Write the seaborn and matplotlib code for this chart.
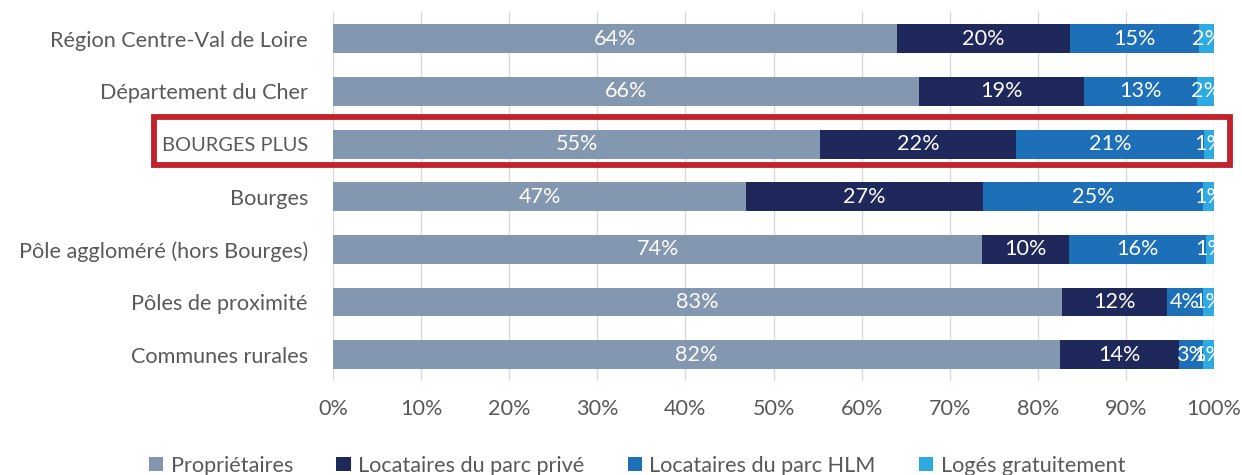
import numpy as np
import pandas as pd
import matplotlib
matplotlib.use("Agg")
import matplotlib.pyplot as plt
import matplotlib.transforms as mtransforms
from matplotlib.patches import Patch, Rectangle
import seaborn as sns

categories = ["Région Centre-Val de Loire", "Département du Cher", "BOURGES PLUS",
              "Bourges", "Pôle aggloméré (hors Bourges)", "Pôles de proximité",
              "Communes rurales"]
series_names = ["Propriétaires", "Locataires du parc privé",
                "Locataires du parc HLM", "Logés gratuitement"]
proprietaires = [64.0, 66.5, 55.3, 46.9, 73.7, 82.7, 82.5]
loc_prive = [19.6, 18.7, 22.2, 26.9, 9.8, 12.0, 13.5]
loc_hlm = [14.7, 12.9, 21.4, 25.0, 15.6, 4.0, 2.7]
loges_gratuit = [1.7, 1.9, 1.1, 1.2, 0.9, 1.3, 1.3]
labels_prop = ["64%", "66%", "55%", "47%", "74%", "83%", "82%"]
labels_prive = ["20%", "19%", "22%", "27%", "10%", "12%", "14%"]
labels_hlm = ["15%", "13%", "21%", "25%", "16%", "4%", "3%"]
labels_grat = ["2%", "2%", "1%", "1%", "1%", "1%", "1%"]
x_ticks = [0, 10, 20, 30, 40, 50, 60, 70, 80, 90, 100]
highlight = "BOURGES PLUS"

colors = ["#8497B0", "#1F285B", "#1D70B7", "#2DAAE1"]

sns.set_theme(style="white")
FONT = ["Lato", "DejaVu Sans"]
plt.rcParams["font.family"] = FONT
FS = 15.6

series = [proprietaires, loc_prive, loc_hlm, loges_gratuit]
series_labels = [labels_prop, labels_prive, labels_hlm, labels_grat]
cum = np.cumsum(np.array(series), axis=0)
starts = cum - np.array(series)

fig = plt.figure(figsize=(12.42, 4.75), dpi=100)
ax = fig.add_axes([0.2681, 0.198, 0.7094, 0.7757])

for i in range(len(series) - 1, -1, -1):
    df = pd.DataFrame({"cat": categories, "val": cum[i]})
    sns.barplot(data=df, x="val", y="cat", order=categories, color=colors[i],
                width=0.55, linewidth=0, saturation=1, ax=ax, orient="h")

for i in range(len(series)):
    for j, cat in enumerate(categories):
        ax.text(starts[i][j] + series[i][j] / 2, j, series_labels[i][j],
                ha="center", va="center", color="white", fontsize=FS,
                family=FONT, clip_on=True)

ax.set_xlim(0, 100)
ax.set_xticks(x_ticks)
ax.set_xticklabels([f"{t}%" for t in x_ticks])
ax.set_xlabel("")
ax.set_ylabel("")
ax.set_axisbelow(True)
ax.grid(axis="x", color="#D9D9D9", linewidth=1.0)
ax.grid(axis="y", visible=False)
for s in ax.spines.values():
    s.set_visible(False)
ax.tick_params(axis="y", length=0, pad=18, labelsize=FS, labelcolor="#595959")
ax.tick_params(axis="x", length=0, pad=13, labelsize=FS, labelcolor="#595959")

idx = categories.index(highlight)
ax.get_yticklabels()[idx].set_fontsize(14.4)
trans = mtransforms.blended_transform_factory(ax.transAxes, ax.transData)
rect = Rectangle((-0.2037, idx - 0.52), 1.2213, 0.92, transform=trans,
                 fill=False, edgecolor="#C0232C", linewidth=4.2, clip_on=False)
ax.add_patch(rect)

handles = [Patch(facecolor=c, edgecolor="none") for c in colors]
fig.legend(handles, series_names, loc="center", bbox_to_anchor=(0.513, 0.02),
           ncol=4, frameon=False, fontsize=FS, handlelength=0.65,
           handleheight=0.65, handletextpad=0.35, columnspacing=2.0,
           labelcolor="#595959")

fig.savefig("out.png", dpi=100)
